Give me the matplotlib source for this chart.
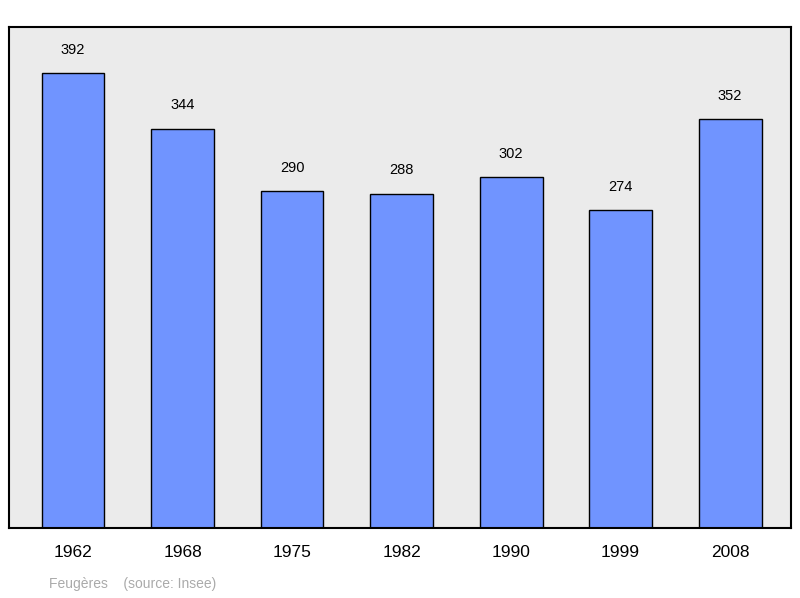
import matplotlib
matplotlib.use("Agg")
import matplotlib.pyplot as plt

plt.rcParams['font.family'] = ['Liberation Sans', 'DejaVu Sans']

years = ['1962', '1968', '1975', '1982', '1990', '1999', '2008']
population = [392, 344, 290, 288, 302, 274, 352]

fig = plt.figure(figsize=(8, 5.98), dpi=100)
ax = fig.add_axes([0.0113, 0.117, 0.9775, 0.838])
ax.set_facecolor('#ebebeb')

x = list(range(len(years)))
ax.bar(x, population, width=0.575, color='#7094ff', edgecolor='black', linewidth=1)
for xi, v in zip(x, population):
    ax.text(xi, v + 14, str(v), ha='center', va='bottom', fontsize=10.5)

ax.set_xlim(-0.584, 6.557)
ax.set_ylim(0, 431.6)
ax.set_yticks([])
ax.set_xticks(x)
ax.set_xticklabels(years, fontsize=12.5)
ax.tick_params(axis='x', length=0, pad=12)
for s in ax.spines.values():
    s.set_linewidth(1.5)

fig.text(49 / 800, 1 - 584 / 598, 'Feugères    (source: Insee)', color='#aaaaaa',
         fontsize=10, va='center', ha='left')

fig.savefig('out.png', dpi=100)
